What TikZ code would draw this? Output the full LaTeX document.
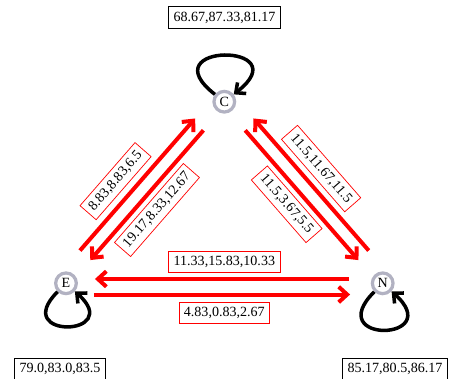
\documentclass[tikz,border=0pt]{standalone}
\usepackage{fontspec}
\setmainfont{Liberation Serif}
\usetikzlibrary{arrows.meta}
\definecolor{ringgray}{RGB}{178,178,194}
\begin{document}
\begin{tikzpicture}[x=0.025cm, y=-0.025cm]
      \tikzset{state/.style={draw=ringgray, circle, line width=2.3pt, inner sep=0pt, minimum size=14.7pt, fill=white},
               valbox/.style={draw, inner sep=3.5pt, line width=0.5pt},
               flowbox/.style={draw=red, fill=white, inner sep=3.5pt, line width=0.5pt},
               flow/.style={draw=red, line width=2.85pt, -{Straight Barb[length=6pt,width=11pt]}},
               selfloop/.style={draw=black, line width=2.5pt, -{Straight Barb[length=5.5pt,width=10pt]}}}
      \useasboundingbox (0,0) rectangle (449,378);
%% Vertices
      \node[state] (C) at (224.3,101.7) {C};
      \node[state] (E) at (66,283.3) {E};
      \node[state] (N) at (382.7,283.3) {N};
%% Values
      \node[valbox] (Cval) at (224.5,17.5) {68.67,87.33,81.17};
      \node[valbox] (Eval) at (60,369) {79.0,83.0,83.5};
      \node[valbox] (Nval) at (395,369) {85.17,80.5,86.17};
%% Loops
      \path (C) edge[selfloop, out=142, in=38, looseness=11.5] (C);
      \path (E) edge[selfloop, out=225, in=318, looseness=10] (E);
      \path (N) edge[selfloop, out=225, in=318, looseness=11] (N);
%% Edges
	%venstre
      \path (E) edge[flow, transform canvas={shift={(-8.3,-7.2)}}, shorten <=15.6pt, shorten >=14.1pt]
            node[flowbox, pos=0.45, sloped, above=5.5pt] {8.83,8.83,6.5} (C);
      \path (C) edge[flow, transform canvas={shift={(2.3,2.0)}}, shorten <=16.6pt, shorten >=15.3pt]
            node[flowbox, pos=0.525, sloped, below=4.5pt] {19.17,8.33,12.67} (E);
	%hoejre
      \path (N) edge[flow, transform canvas={shift={(8.3,-7.2)}}, shorten <=15.6pt, shorten >=14.1pt]
            node[flowbox, pos=0.53, sloped, above=5pt] {11.5,11.67,11.5} (C);
      \path (C) edge[flow, transform canvas={shift={(-2.3,2.0)}}, shorten <=16.6pt, shorten >=15.3pt]
            node[flowbox, pos=0.49, sloped, below=4.5pt] {11.5,3.67,5.5} (N);
	%bund
      \path (N) edge[flow, transform canvas={shift={(0,-4.3)}}, shorten <=15.4pt, shorten >=12.1pt]
            node[flowbox, midway, above=4.3pt] {11.33,15.83,10.33} (E);
      \path (E) edge[flow, transform canvas={shift={(0,11.2)}}, shorten <=11.4pt, shorten >=14.7pt]
            node[flowbox, midway, below=5.3pt] {4.83,0.83,2.67} (N);
\end{tikzpicture}
\end{document}
